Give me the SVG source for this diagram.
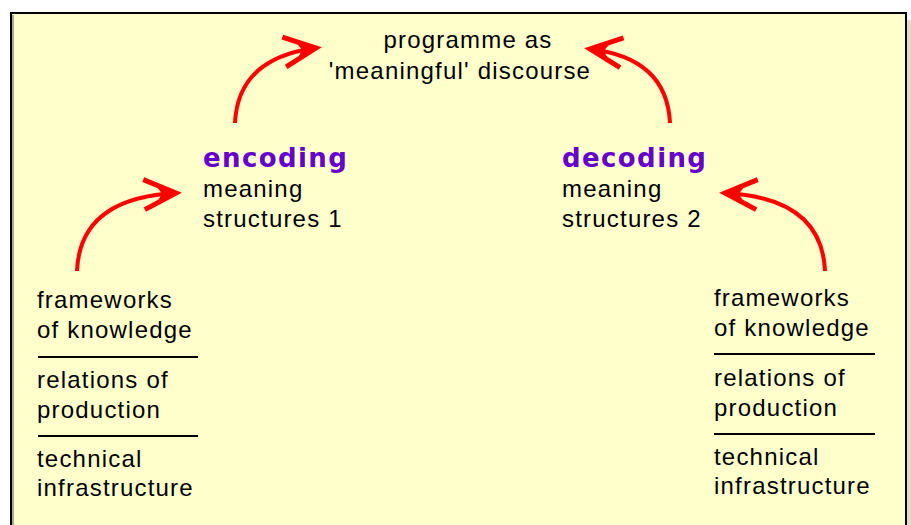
<svg xmlns="http://www.w3.org/2000/svg" width="911" height="525" viewBox="0 0 911 525">
<style>
  .t { font-family: "Liberation Sans", Arial, sans-serif; font-size: 24px; fill: #000; letter-spacing: 1.2px; }
  .h { font-family: "DejaVu Sans", "Liberation Sans", sans-serif; font-size: 26px; font-weight: bold; fill: #6600CC; letter-spacing: 1.4px; }
  .rule { stroke: #000; stroke-width: 2; }
  .arrow { fill: none; stroke: #FF0000; stroke-width: 4; marker-end: url(#head); }
</style>
<defs>
  <marker id="head" markerUnits="userSpaceOnUse" viewBox="-36 -20 40 40" refX="0" refY="0" markerWidth="40" markerHeight="40" orient="auto" overflow="visible">
    <polyline points="-32,-15 0,0 -32,15" fill="none" stroke="#FF0000" stroke-width="5" stroke-linejoin="miter"/>
    <polygon points="2,0 -20,-9 -14,0 -20,9" fill="#FF0000"/>
  </marker>
</defs>
<rect x="0" y="0" width="911" height="525" fill="#FFFFFF"/>
<rect x="907" y="20" width="4" height="505" fill="#E6DCC4"/>
<rect x="11" y="13" width="895" height="520" fill="#FFFFCC" stroke="#000" stroke-width="2"/>
<line x1="13" y1="15" x2="13" y2="525" stroke="#555" stroke-width="1"/>

<g id="connectors">
  <path class="arrow" d="M235,123 Q238,58 316,48"/>
  <path class="arrow" d="M670,123 Q667,58 590,49"/>
  <path class="arrow" d="M77,271 Q80,198 176,193"/>
  <path class="arrow" d="M825,271 Q822,198 725,193"/>
</g>

<g id="programme">
  <text class="t" x="468" y="48" text-anchor="middle">programme as</text>
  <text class="t" x="460" y="79" text-anchor="middle">'meaningful' discourse</text>
</g>

<g id="encoding">
  <text class="h" x="203" y="167">encoding</text>
  <text class="t" x="203" y="197">meaning</text>
  <text class="t" x="203" y="227">structures 1</text>
</g>

<g id="decoding">
  <text class="h" x="562" y="167">decoding</text>
  <text class="t" x="562" y="197">meaning</text>
  <text class="t" x="562" y="227">structures 2</text>
</g>

<g id="left-frameworks">
  <text class="t" x="37" y="308">frameworks</text>
  <text class="t" x="37" y="338">of knowledge</text>
  <line class="rule" x1="38" y1="357" x2="198" y2="357"/>
  <text class="t" x="37" y="388">relations of</text>
  <text class="t" x="37" y="418">production</text>
  <line class="rule" x1="38" y1="436" x2="198" y2="436"/>
  <text class="t" x="37" y="467">technical</text>
  <text class="t" x="37" y="496">infrastructure</text>
</g>

<g id="right-frameworks">
  <text class="t" x="714" y="306">frameworks</text>
  <text class="t" x="714" y="336">of knowledge</text>
  <line class="rule" x1="714" y1="354" x2="875" y2="354"/>
  <text class="t" x="714" y="386">relations of</text>
  <text class="t" x="714" y="416">production</text>
  <line class="rule" x1="714" y1="434" x2="875" y2="434"/>
  <text class="t" x="714" y="465">technical</text>
  <text class="t" x="714" y="494">infrastructure</text>
</g>
</svg>
